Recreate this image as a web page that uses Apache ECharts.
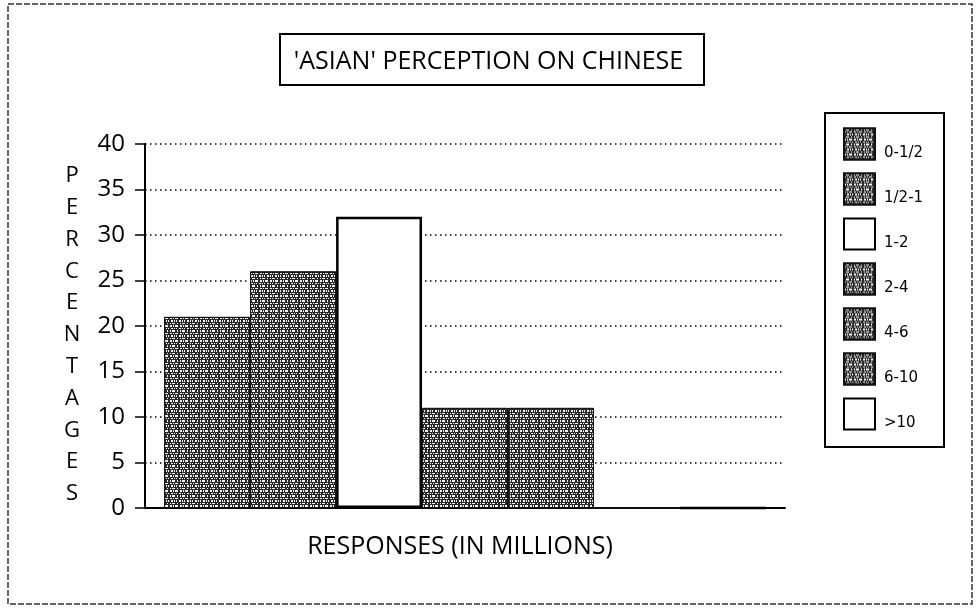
<!DOCTYPE html>
<html>
<head>
<meta charset="utf-8">
<script src="https://cdn.jsdelivr.net/npm/echarts@6/dist/echarts.min.js"></script>
<style>
html,body{margin:0;padding:0;background:#fff;}
#chart{width:977px;height:609px;}
</style>
</head>
<body>
<div id="chart"></div>
<script>
// Data
var groups = ['0-1/2', '1/2-1', '1-2', '2-4', '4-6', '6-10', '>10'];
var percentages = [21, 26, 32, 11, 11, 0, 0];
var textured = [true, true, false, true, true, true, false];
var categories = [''];
var titleText = "'ASIAN' PERCEPTION ON CHINESE";
var yAxisTitle = 'PERCENTAGES';
var xAxisTitle = 'RESPONSES (IN MILLIONS)';

var FONT = '"Open Sans", "DejaVu Sans", sans-serif';

var texture = {
  symbol: 'rect',
  symbolSize: 1,
  color: 'rgba(255,255,255,0.95)',
  dashArrayX: [[2, 1, 1, 1, 3, 2], [1, 2, 2, 1, 1, 1], [1, 1, 3, 2, 1, 2]],
  dashArrayY: [2, 1, 1, 1],
  rotation: 0
};

var series = groups.map(function (g, i) {
  return {
    name: g,
    type: 'bar',
    data: [percentages[i]],
    barGap: '0%',
    barCategoryGap: '6%',
    itemStyle: textured[i] ? {
      color: '#2a2a2a',
      borderColor: '#111',
      borderWidth: 1,
      decal: texture
    } : {
      color: '#ffffff',
      borderColor: '#000',
      borderWidth: 2.5
    },
    emphasis: { disabled: true }
  };
});

var chart = echarts.init(document.getElementById('chart'), null, { renderer: 'canvas' });
chart.setOption({
  backgroundColor: '#fff',
  animation: false,
  aria: { enabled: false },
  title: {
    text: titleText,
    left: 'center',
    top: 44,
    textStyle: { fontFamily: FONT, fontSize: 25, fontWeight: 'normal', color: '#000' }
  },
  legend: {
    data: groups.map(function (g) { return { name: g, icon: 'rect' }; }),
    orient: 'vertical',
    left: 843,
    top: 126,
    padding: 0,
    itemWidth: 31,
    itemHeight: 31,
    itemGap: 9,
    selectedMode: false,
    formatter: function (name) { return '\n' + name; },
    textStyle: { fontFamily: '"DejaVu Sans", sans-serif', fontSize: 15, lineHeight: 18, color: '#000', padding: [0, 0, 0, 4] }
  },
  grid: { left: 145, right: 192, top: 144, bottom: 101, containLabel: false },
  xAxis: {
    type: 'category',
    data: categories,
    axisLine: { show: true, lineStyle: { color: '#000', width: 2 } },
    axisTick: { show: false },
    axisLabel: { show: false },
    name: xAxisTitle,
    nameLocation: 'middle',
    nameGap: 26,
    nameTextStyle: { fontFamily: FONT, fontSize: 25, color: '#000', padding: [0, 10, 0, 0] }
  },
  yAxis: {
    type: 'value',
    min: 0,
    max: 40,
    interval: 5,
    axisLine: { show: true, lineStyle: { color: '#000', width: 2 } },
    axisTick: { show: true, length: 10, lineStyle: { color: '#000', width: 1.5 } },
    axisLabel: { margin: 20, fontFamily: FONT, fontSize: 24, color: '#000' },
    splitLine: { show: true, lineStyle: { color: '#000', type: [1.5, 3.5], width: 1.5 } }
  },
  series: series,
  graphic: [
    {
      type: 'rect',
      shape: { x: 8, y: 4, width: 964, height: 600 },
      style: { fill: 'none', stroke: '#333', lineWidth: 1.5, lineDash: [6, 2] },
      silent: true
    },
    {
      type: 'rect',
      shape: { x: 280, y: 34, width: 424, height: 51 },
      style: { fill: 'none', stroke: '#000', lineWidth: 2 },
      silent: true
    },
    {
      type: 'rect',
      shape: { x: 825, y: 113, width: 119, height: 334 },
      style: { fill: 'none', stroke: '#000', lineWidth: 2 },
      silent: true
    },
    {
      type: 'text',
      x: 72,
      y: 160,
      style: {
        text: yAxisTitle.split('').join('\n'),
        fontFamily: FONT,
        fontSize: 22,
        lineHeight: 31.8,
        align: 'center',
        verticalAlign: 'top',
        fill: '#000'
      },
      silent: true
    }
  ]
});
</script>
</body>
</html>
